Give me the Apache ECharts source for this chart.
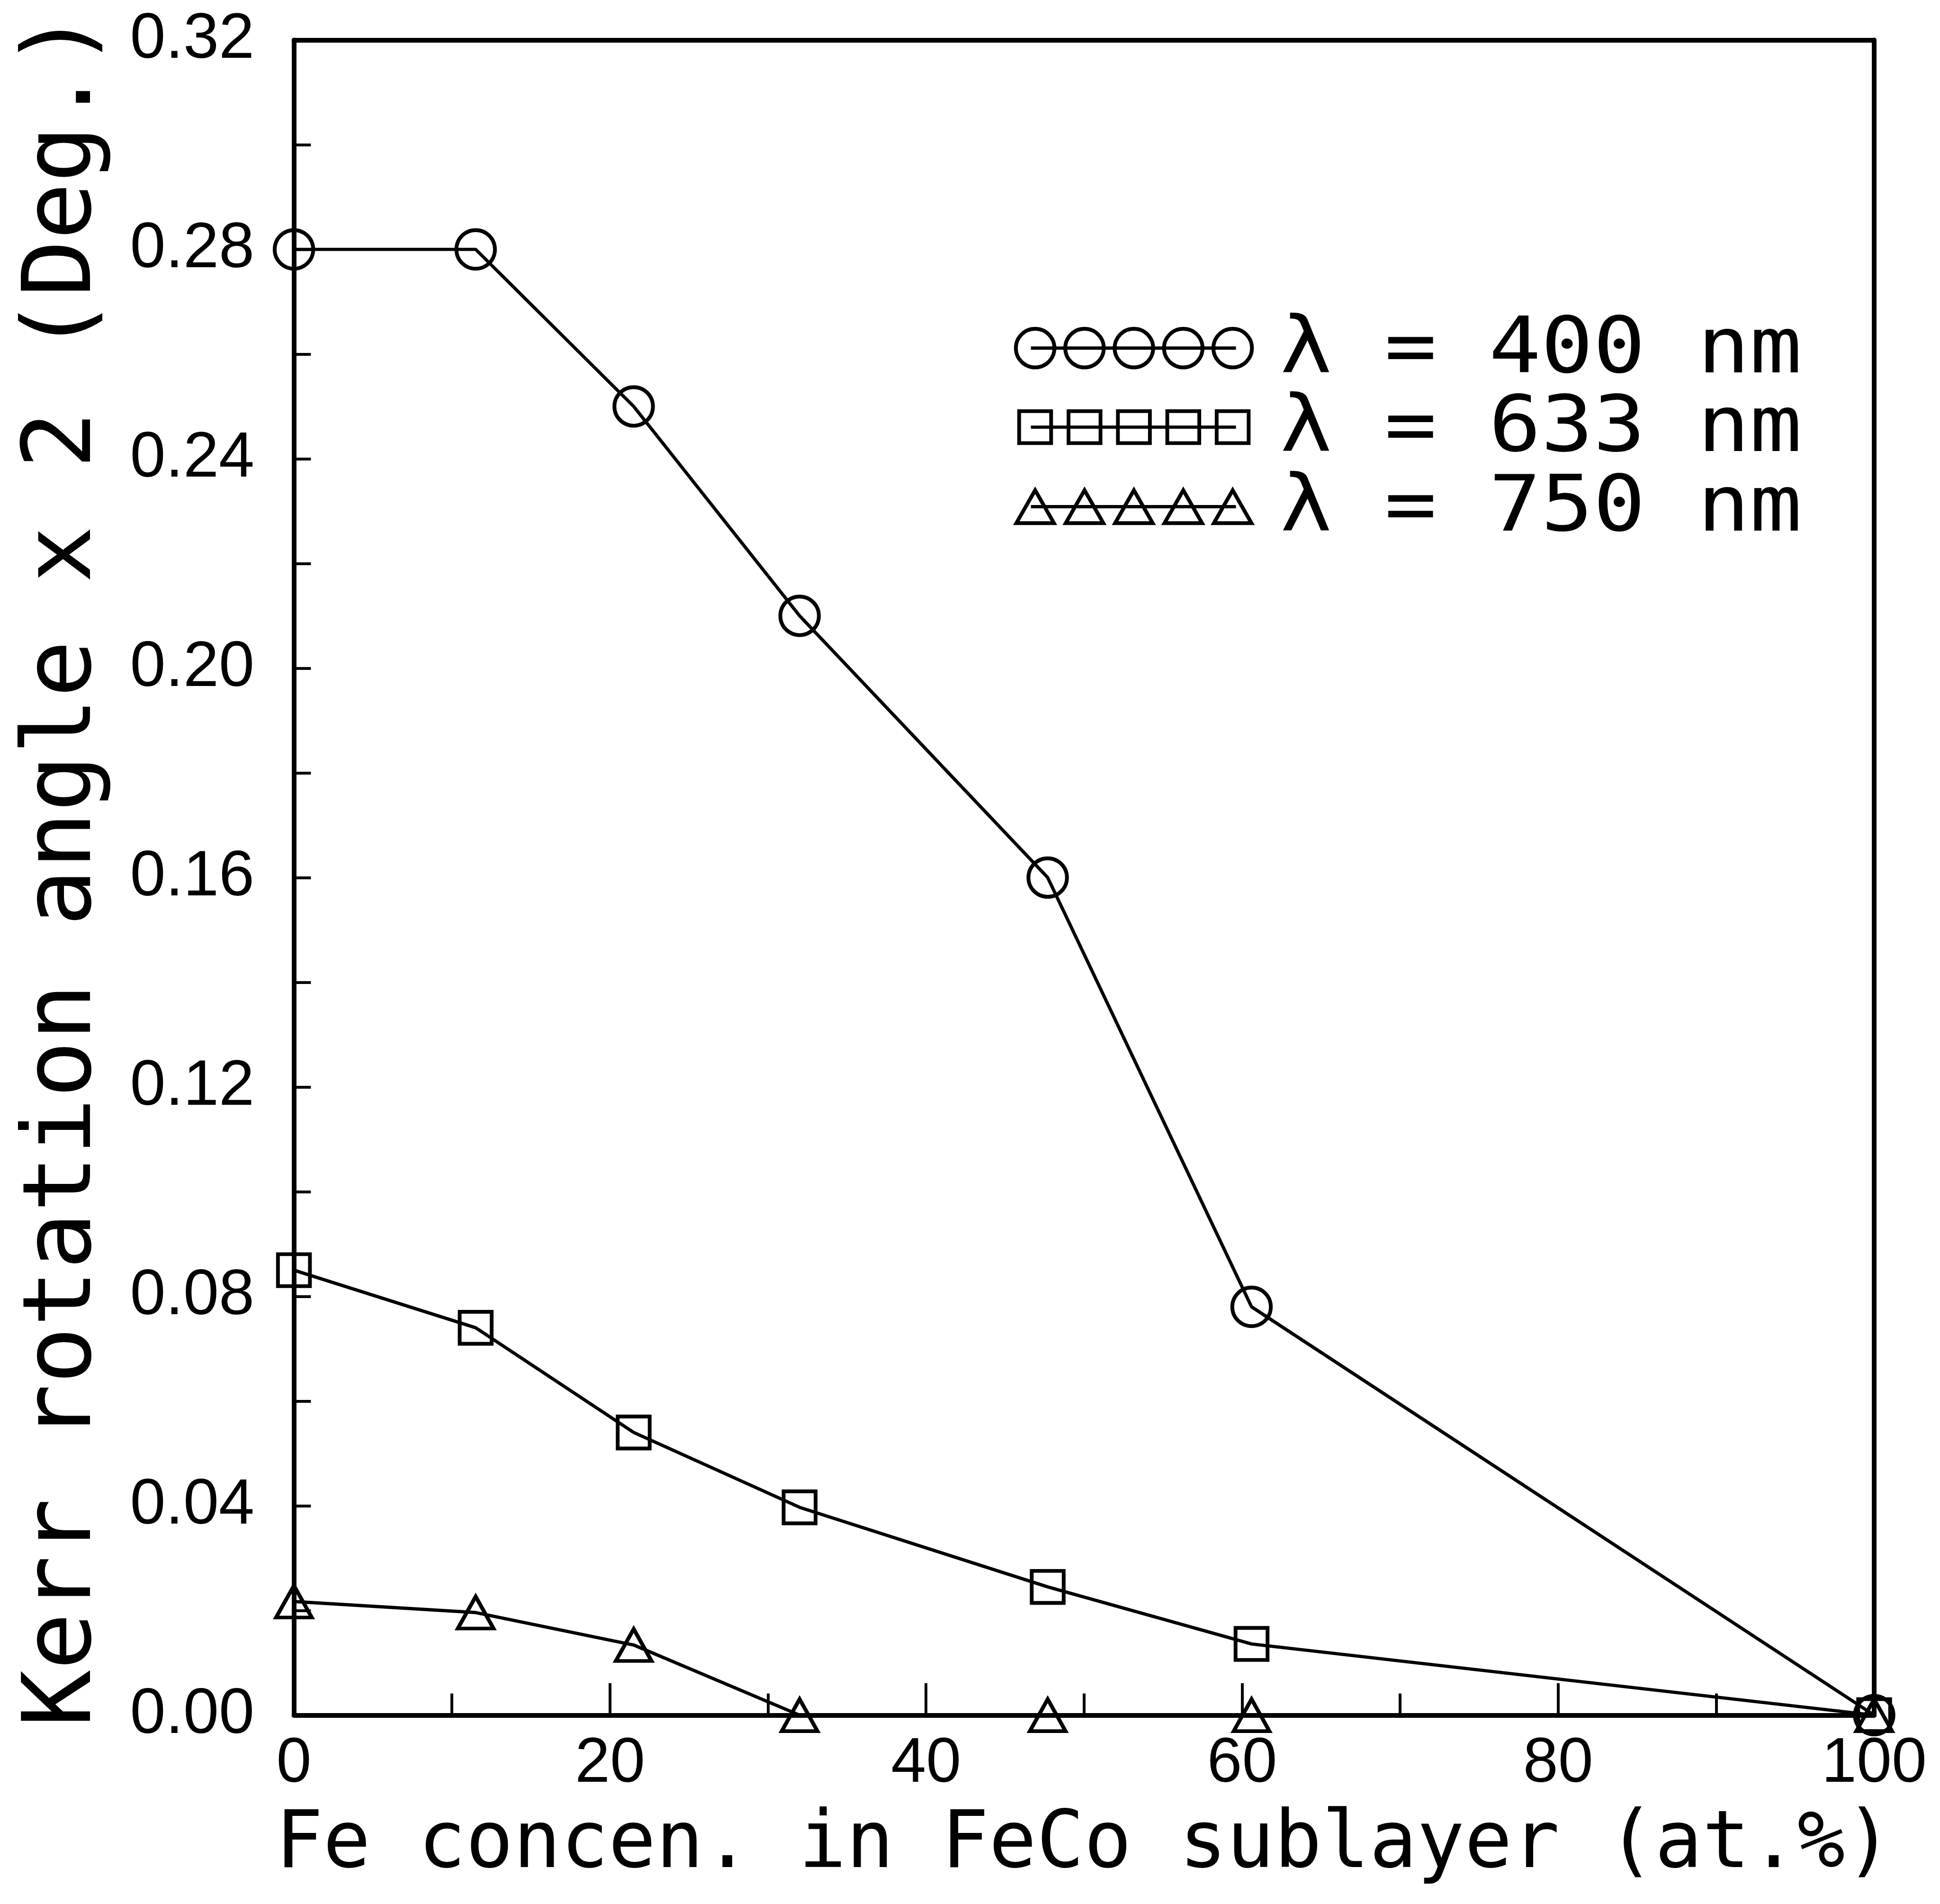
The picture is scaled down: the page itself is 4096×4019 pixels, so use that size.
<!DOCTYPE html>
<html>
<head>
<meta charset="utf-8">
<style>
html,body{margin:0;padding:0;background:#fff;}
#chart{width:4096px;height:4019px;}
</style>
<script src="https://cdn.jsdelivr.net/npm/echarts@6/dist/echarts.min.js"></script>
</head>
<body>
<div id="chart"></div>
<script>
// Fe concentration in the FeCo sublayer (at.%)
const feConc = [0, 11.5, 21.5, 32, 47.7, 60.6, 100];
// Kerr rotation angle x 2 (deg.) at each wavelength
const kerr400 = [0.28, 0.28, 0.25, 0.21, 0.16, 0.078, 0];
const kerr633 = [0.085, 0.074, 0.054, 0.0397, 0.0245, 0.0136, 0];
const kerr750 = [0.0217, 0.0196, 0.0134, 0, 0, 0, 0];
const seriesNames = ['λ = 400 nm', 'λ = 633 nm', 'λ = 750 nm'];
const xTitle = 'Fe concen. in FeCo sublayer (at.%)';
const yTitle = 'Kerr rotation angle x 2 (Deg.)';

const K = 4096 / 4125;           // drawing scale
const INK = '#000';
const MONO = '"DejaVu Sans Mono", "Liberation Mono", monospace';
const SANS = '"Liberation Sans", Arial, sans-serif';

function pts(ys) { return feConc.map((x, i) => [x, ys[i]]); }

function lineSeries(name, ys, symbol, size) {
  return {
    type: 'line', name, data: pts(ys),
    symbol, symbolSize: size, showAllSymbol: true, clip: false,
    lineStyle: { color: INK, width: 7 * K },
    itemStyle: { color: 'rgba(0,0,0,0)', borderColor: INK, borderWidth: 8 * K },
    emphasis: { disabled: true }
  };
}

// legend rows: five sample symbols strung on a line, then the label
const legendRows = [
  { y: 740, shape: 'circle' },
  { y: 908, shape: 'square' },
  { y: 1077, shape: 'triangle' }
];
const legendX = [2201, 2306, 2411, 2516, 2621];
const legendGraphics = [];
legendRows.forEach((row, r) => {
  const cy = row.y * K;
  legendGraphics.push({
    type: 'line', silent: true,
    shape: { x1: 2192 * K, y1: cy, x2: 2628 * K, y2: cy },
    style: { stroke: INK, lineWidth: 7 * K }
  });
  legendX.forEach(x => {
    const cx = x * K;
    const st = { fill: 'none', stroke: INK, lineWidth: 8 * K };
    if (row.shape === 'circle') {
      legendGraphics.push({ type: 'circle', silent: true, shape: { cx, cy, r: 41 * K }, style: st });
    } else if (row.shape === 'square') {
      const h = 34 * K;
      legendGraphics.push({ type: 'rect', silent: true, shape: { x: cx - h, y: cy - h, width: 2 * h, height: 2 * h }, style: st });
    } else {
      const w = 40 * K, h = 35 * K;
      legendGraphics.push({ type: 'polygon', silent: true,
        shape: { points: [[cx, cy - h], [cx + w, cy + h], [cx - w, cy + h]] }, style: st });
    }
  });
  legendGraphics.push({
    type: 'text', silent: true, x: 2722 * K, y: cy + 8 * K, scaleX: 1.11,
    style: { text: seriesNames[r], fill: INK, font: `${166 * K}px ${MONO}`,
             textAlign: 'left', textVerticalAlign: 'middle' }
  });
});

const chart = echarts.init(document.getElementById('chart'), null, { renderer: 'canvas' });
chart.setOption({
  animation: false,
  backgroundColor: '#fff',
  grid: {
    left: 625 * K, right: 4096 - 3985 * K, top: 85 * K, bottom: 4019 - 3646 * K,
    containLabel: false
  },
  xAxis: [{
    type: 'value', min: 0, max: 100, interval: 20, position: 'bottom',
    axisLine: { show: true, onZero: false, lineStyle: { color: INK, width: 10 * K } },
    axisTick: { show: true, inside: true, length: 68 * K, lineStyle: { color: INK, width: 6 * K } },
    minorTick: { show: true, splitNumber: 2, length: 46 * K, lineStyle: { color: INK, width: 6 * K } },
    axisLabel: { margin: 38 * K, fontFamily: SANS, fontSize: 134 * K, lineHeight: 134 * K, color: INK },
    splitLine: { show: false },
    name: xTitle, nameLocation: 'middle', nameGap: 195 * K,
    nameTextStyle: { fontFamily: MONO, fontSize: 168 * K, color: INK }
  }, {
    type: 'value', min: 0, max: 100, position: 'top',
    axisLine: { show: true, onZero: false, lineStyle: { color: INK, width: 10 * K } },
    axisTick: { show: false }, axisLabel: { show: false }, splitLine: { show: false }
  }],
  yAxis: [{
    type: 'value', min: 0, max: 0.32, interval: 0.04, position: 'left',
    axisLine: { show: true, onZero: false, lineStyle: { color: INK, width: 10 * K } },
    axisTick: { show: true, inside: true, length: 36 * K, lineStyle: { color: INK, width: 6 * K } },
    minorTick: { show: true, splitNumber: 2, length: 36 * K, lineStyle: { color: INK, width: 6 * K } },
    axisLabel: { margin: 84 * K, fontFamily: SANS, fontSize: 136 * K, color: INK,
                 formatter: v => v.toFixed(2) },
    splitLine: { show: false },
    name: yTitle, nameLocation: 'middle', nameRotate: 90, nameGap: 385 * K,
    nameTextStyle: { fontFamily: MONO, fontSize: 202 * K, color: INK, padding: [0, 0, 0, 36 * K] }
  }, {
    type: 'value', min: 0, max: 0.32, position: 'right',
    axisLine: { show: true, onZero: false, lineStyle: { color: INK, width: 10 * K } },
    axisTick: { show: false }, axisLabel: { show: false }, splitLine: { show: false }
  }],
  series: [
    lineSeries(seriesNames[0], kerr400, 'circle', 82 * K),
    lineSeries(seriesNames[1], kerr633, 'rect', 68 * K),
    lineSeries(seriesNames[2], kerr750, 'triangle', [76 * K, 68 * K])
  ],
  graphic: legendGraphics
});
</script>
</body>
</html>
